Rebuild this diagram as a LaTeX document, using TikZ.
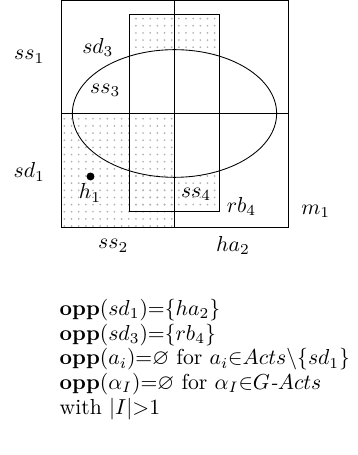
\documentclass[tikz,border=0pt]{standalone}
\usepackage{amsmath,amssymb}
\usetikzlibrary{patterns.meta}

\tikzdeclarepattern{
  name=sddots,
  type=uncolored,
  bounding box={(-1.65pt,-1.65pt) and (1.65pt,1.65pt)},
  tile size={(3.3pt,3.3pt)},
  code={\fill (0pt,0pt) circle (0.45pt);}
}

\begin{document}
\begin{tikzpicture}[x=0.92cm,y=0.92cm,
  dotfill/.style={pattern=sddots,pattern color=gray!60},
  opptext/.style={anchor=base west,inner sep=0pt}]
\useasboundingbox (-1.075,-4.018) rectangle (5.233,4.0);
\begin{scope}
\clip (1.2,0.27) rectangle (2.8,3.74);
\fill[dotfill,even odd rule] (1.2,0.27) rectangle (2.8,3.74) (2,2) ellipse (1.8 and 1.125);
\end{scope}
\fill[dotfill] (0,0) rectangle (2,2);
\draw (0,0) rectangle (4,4);
\draw (2,0) -- (2,4);
\draw (0,2) -- (4,2);
\draw (1.2,0.27) rectangle (2.8,3.74);
\draw (2,2) ellipse (1.8 and 1.125);
\fill (0.52,0.89) circle (0.07);
\node (ss1) at (-0.56,3.0) {$ss_1$};
\node (sd1) at (-0.56,0.97) {$sd_1$};
\node (sd3) at (0.65,3.16) {$sd_3$};
\node (ss3) at (0.78,2.41) {$ss_3$};
\node (h1) at (0.51,0.6) {$h_1$};
\node (ss4) at (2.38,0.58) {$ss_4$};
\node (rb4) at (3.18,0.36) {$rb_4$};
\node (m1) at (4.49,0.28) {$m_1$};
\node (ss2) at (0.92,-0.33) {$ss_2$};
\node (ha2) at (3.03,-0.33) {$ha_2$};
\node[opptext] (l1) at (-0.03,-1.56) {$\mathbf{opp}(sd_1){=}\{ha_2\}$};
\node[opptext] (l2) at (-0.03,-1.995) {$\mathbf{opp}(sd_3){=}\{rb_4\}$};
\node[opptext] (l3) at (-0.03,-2.43) {$\mathbf{opp}(a_i){=}\varnothing$ for $a_i{\in}Acts{\backslash}\{sd_1\}$};
\node[opptext] (l4) at (-0.03,-2.865) {$\mathbf{opp}(\alpha_I){=}\varnothing$ for $\alpha_I{\in}G$\textit{-}$Acts$};
\node[opptext] (l5) at (-0.03,-3.30) {with $|I|{>}1$};
\end{tikzpicture}
\end{document}
